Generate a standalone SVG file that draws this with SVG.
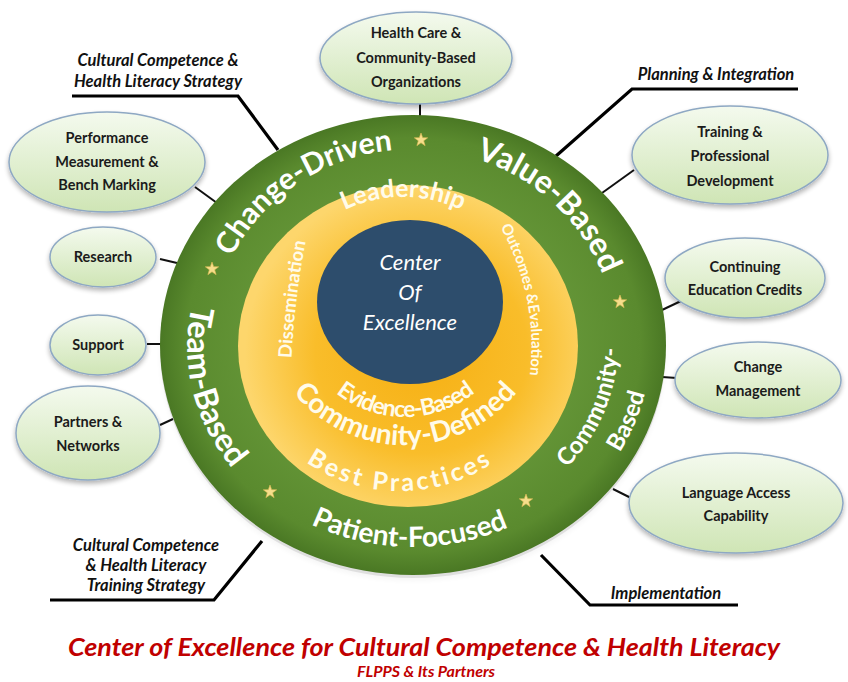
<svg xmlns="http://www.w3.org/2000/svg" width="848" height="682" viewBox="0 0 848 682">
<style>
.nodeShape{fill:url(#nodeGrad);stroke:#8ea8c3;stroke-width:1.5;filter:url(#shadow)}
.nt{font-family:Lato,'Liberation Sans',sans-serif;font-weight:700;font-size:14.5px;fill:#1b1b1b;text-anchor:middle}
.lbl{font-family:Lato,'Liberation Sans',sans-serif;font-weight:700;font-style:italic;font-size:16.5px;fill:#111;text-anchor:middle}
.conn{stroke:#111;stroke-width:2;fill:none}
.strat{stroke:#000;stroke-width:3.2;fill:none}
.ring{font-family:Lato,'Liberation Sans',sans-serif;font-weight:700;fill:#fff;text-anchor:middle}
.ylw{font-family:Lato,'Liberation Sans',sans-serif;font-weight:700;fill:#fffbea;text-anchor:middle}
.star{fill:#f6de8c;stroke:#e2bd55;stroke-width:0.6}
</style>
<defs>
<linearGradient id="nodeGrad" x1="0" y1="0" x2="0" y2="1">
<stop offset="0" stop-color="#f4faee"/>
<stop offset="1" stop-color="#cfe5b5"/>
</linearGradient>
<radialGradient id="greenGrad" cx="0.5" cy="0.5" r="0.5">
<stop offset="0.6" stop-color="#659638"/>
<stop offset="0.9" stop-color="#5a8a2e"/>
<stop offset="1" stop-color="#4a7824"/>
</radialGradient>
<radialGradient id="yellowGrad" cx="0.54" cy="0.52" r="0.52">
<stop offset="0" stop-color="#f6af12"/>
<stop offset="0.6" stop-color="#f9bd2a"/>
<stop offset="1" stop-color="#fdd66c"/>
</radialGradient>
<filter id="shadow" x="-10%" y="-10%" width="120%" height="135%">
<feGaussianBlur in="SourceAlpha" stdDeviation="2.5"/>
<feOffset dy="3"/>
<feComponentTransfer><feFuncA type="linear" slope="0.3"/></feComponentTransfer>
<feMerge><feMergeNode/><feMergeNode in="SourceGraphic"/></feMerge>
</filter>
<path id="star" d="M0,-7 L1.65,-2.27 L6.66,-2.16 L2.66,0.87 L4.11,5.66 L0,2.8 L-4.11,5.66 L-2.66,0.87 L-6.66,-2.16 L-1.65,-2.27 Z"/>
<path id="pChange" d="M 210.8 362.1 A 203 196 0 0 1 498.8 167.4"/>
<path id="pValue" d="M 357.1 156.6 A 203 196 0 0 1 610 392.4"/>
<path id="pTeam" d="M 260 197 A 222 202 0 0 0 340 538.5"/>
<path id="pPatient" d="M 218.8 442.9 A 222 202 0 0 0 603.3 449.0"/>
<path id="pComm" d="M 448.6 528.2 A 205 186 0 0 0 570 225.4"/>
<path id="pBased" d="M 454.3 558.7 A 238 217 0 0 0 595.3 205.5"/>
<path id="pLead" d="M 285.2 265 A 136 136 0 0 1 520.8 265"/>
<path id="pDiss" d="M 291 374 Q 293 300 309 226"/>
<path id="pOut" d="M 492 212 Q 545 300 527 392"/>
<path id="pEvid" d="M 296.8 334 A 112 112 0 0 0 513.2 334"/>
<path id="pCommDef" d="M 268.7 349.6 A 145 145 0 0 0 541.3 349.6"/>
<path id="pBest" d="M 247.7 394 A 168 168 0 0 0 552.3 394"/>
</defs>
<rect width="848" height="682" fill="#fff"/>

<g id="connectors">
<line class="conn" x1="420" y1="104" x2="420" y2="117"/>
<line class="conn" x1="195" y1="187" x2="217" y2="203"/>
<line class="conn" x1="160" y1="259" x2="177" y2="263"/>
<line class="conn" x1="147" y1="344" x2="163" y2="344"/>
<line class="conn" x1="160" y1="425" x2="173" y2="419"/>
<line class="conn" x1="602" y1="193" x2="634" y2="170"/>
<line class="conn" x1="662" y1="310" x2="681" y2="301"/>
<line class="conn" x1="662" y1="377" x2="677" y2="378"/>
<line class="conn" x1="613" y1="489" x2="631" y2="498"/>
<polyline class="strat" points="72,96 238,96 278,150"/>
<polyline class="strat" points="798,89 632,89 556,156"/>
<polyline class="strat" points="50,600 214,600 262,541"/>
<polyline class="strat" points="541,555 590,605 738,605"/>
</g>

<g id="wheel">
<ellipse cx="413" cy="348" rx="253" ry="230" fill="#000" opacity="0.12" filter="url(#shadow)"/>
<ellipse cx="413" cy="345" rx="253" ry="230" fill="url(#greenGrad)"/>
<ellipse cx="408" cy="346" rx="170" ry="161" fill="url(#yellowGrad)"/>
<ellipse cx="410" cy="302" rx="93" ry="82" fill="#2d4d6c"/>
<use href="#star" class="star" x="421" y="140"/>
<use href="#star" class="star" x="212" y="269"/>
<use href="#star" class="star" x="620" y="302"/>
<use href="#star" class="star" x="270" y="492"/>
<use href="#star" class="star" x="526" y="501"/>
<text class="ring" font-size="30"><textPath href="#pChange" startOffset="50%">Change-Driven</textPath></text>
<text class="ring" font-size="32"><textPath href="#pValue" startOffset="50%">Value-Based</textPath></text>
<text class="ring" font-size="32"><textPath href="#pTeam" startOffset="50%">Team-Based</textPath></text>
<text class="ring" font-size="28"><textPath href="#pPatient" startOffset="50%">Patient-Focused</textPath></text>
<text class="ring" font-size="24"><textPath href="#pComm" startOffset="50%">Community-</textPath></text>
<text class="ring" font-size="24"><textPath href="#pBased" startOffset="50%">Based</textPath></text>
<text class="ylw" font-size="25"><textPath href="#pLead" startOffset="50%">Leadership</textPath></text>
<text class="ylw" font-size="18.5"><textPath href="#pDiss" startOffset="50%">Dissemination</textPath></text>
<text class="ylw" font-size="15"><textPath href="#pOut" startOffset="50%">Outcomes &amp;Evaluation</textPath></text>
<text class="ylw" font-size="23" letter-spacing="-1"><textPath href="#pEvid" startOffset="50%">Evidence-Based</textPath></text>
<text class="ylw" font-size="28"><textPath href="#pCommDef" startOffset="50%">Community-Defined</textPath></text>
<text class="ylw" font-size="25" letter-spacing="3"><textPath href="#pBest" startOffset="50%">Best Practices</textPath></text>
<g font-family="Lato,'Liberation Sans',sans-serif" font-style="italic" font-size="22" fill="#fff" text-anchor="middle">
<text x="410" y="270">Center</text>
<text x="410" y="300">Of</text>
<text x="410" y="330">Excellence</text>
</g>
</g>

<g id="n-healthcare">
<ellipse class="nodeShape" cx="416" cy="58" rx="96" ry="46"/>
<text class="nt" x="416" y="38">Health Care &amp;</text>
<text class="nt" x="416" y="63">Community-Based</text>
<text class="nt" x="416" y="87">Organizations</text>
</g>
<g id="n-performance">
<ellipse class="nodeShape" cx="107" cy="162" rx="98" ry="50"/>
<text class="nt" x="107" y="143">Performance</text>
<text class="nt" x="107" y="167">Measurement &amp;</text>
<text class="nt" x="107" y="190">Bench Marking</text>
</g>
<g id="n-research">
<ellipse class="nodeShape" cx="103" cy="257" rx="53" ry="30"/>
<text class="nt" x="103" y="262">Research</text>
</g>
<g id="n-support">
<ellipse class="nodeShape" cx="98" cy="345" rx="48" ry="30"/>
<text class="nt" x="98" y="350">Support</text>
</g>
<g id="n-partners">
<ellipse class="nodeShape" cx="88" cy="433" rx="72" ry="47"/>
<text class="nt" x="88" y="427">Partners &amp;</text>
<text class="nt" x="88" y="451">Networks</text>
</g>
<g id="n-training">
<ellipse class="nodeShape" cx="730" cy="155" rx="98" ry="49"/>
<text class="nt" x="730" y="137">Training &amp;</text>
<text class="nt" x="730" y="161">Professional</text>
<text class="nt" x="730" y="186">Development</text>
</g>
<g id="n-continuing">
<ellipse class="nodeShape" cx="745" cy="278" rx="80" ry="40"/>
<text class="nt" x="745" y="272">Continuing</text>
<text class="nt" x="745" y="295">Education Credits</text>
</g>
<g id="n-change">
<ellipse class="nodeShape" cx="758" cy="380" rx="83" ry="38"/>
<text class="nt" x="758" y="372">Change</text>
<text class="nt" x="758" y="396">Management</text>
</g>
<g id="n-language">
<ellipse class="nodeShape" cx="736" cy="503" rx="107" ry="50"/>
<text class="nt" x="736" y="498">Language Access</text>
<text class="nt" x="736" y="521">Capability</text>
</g>

<g id="labels">
<text class="lbl" x="158" y="66">Cultural Competence &amp;</text>
<text class="lbl" x="158" y="87">Health Literacy Strategy</text>
<text class="lbl" x="716" y="80">Planning &amp; Integration</text>
<text class="lbl" x="146" y="551">Cultural Competence</text>
<text class="lbl" x="146" y="571">&amp; Health Literacy</text>
<text class="lbl" x="146" y="591">Training Strategy</text>
<text class="lbl" x="666" y="599">Implementation</text>
</g>

<g id="title" font-family="Lato,'Liberation Sans',sans-serif" font-weight="700" font-style="italic" fill="#c00000" text-anchor="middle">
<text x="424" y="656" font-size="24" textLength="712" lengthAdjust="spacingAndGlyphs">Center of Excellence for Cultural Competence &amp; Health Literacy</text>
<text x="426" y="677" font-size="16">FLPPS &amp; Its Partners</text>
</g>
</svg>
